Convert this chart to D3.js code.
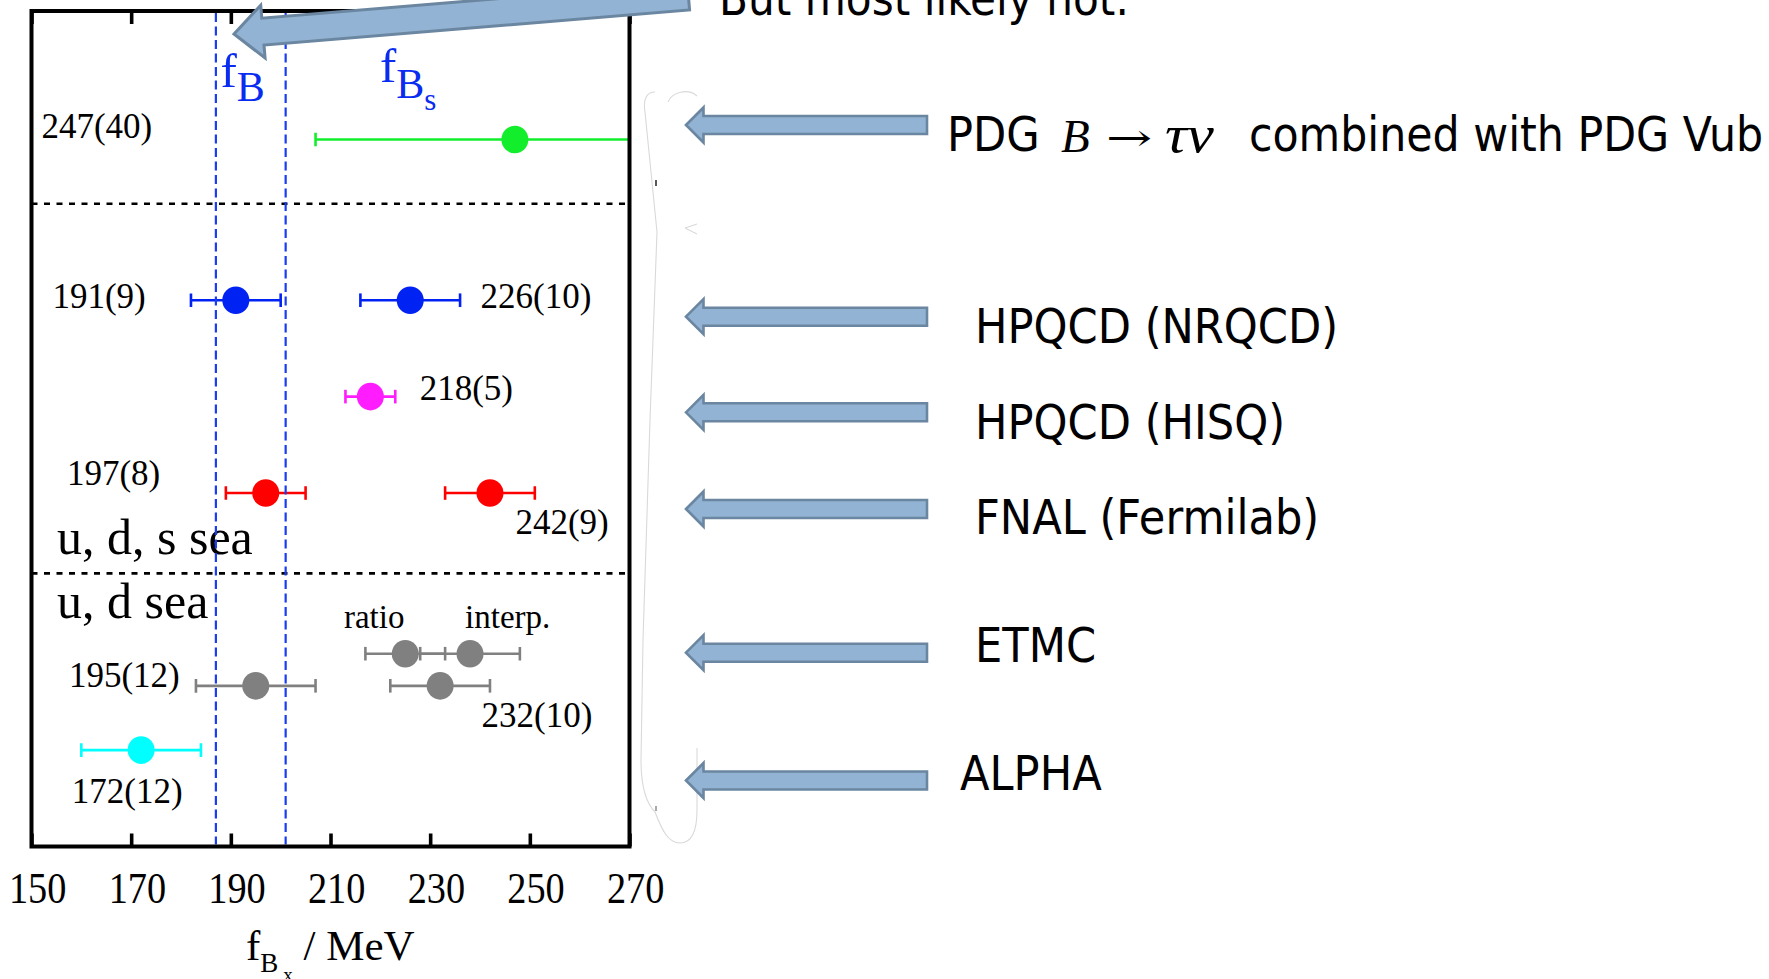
<!DOCTYPE html>
<html>
<head>
<meta charset="utf-8">
<script src="https://cdn.jsdelivr.net/npm/d3@7"></script>
<style>
  html, body { margin: 0; padding: 0; background: #fff; overflow: hidden; }
  svg { display: block; }
</style>
</head>
<body>
<svg id="chart" width="1769" height="979"></svg>
<script>
// ---------------------------------------------------------------------------
// Decay constants f_B and f_Bs (MeV) from lattice QCD and from B -> tau nu
// ---------------------------------------------------------------------------
const groups        = ["PDG", "HPQCD-NRQCD", "HPQCD-NRQCD", "HPQCD-HISQ", "FNAL", "FNAL",
                       "ETMC", "ETMC", "ETMC", "ETMC", "ALPHA"];
const centralValues = [247, 191, 226, 218, 197, 242, 225, 238, 195, 232, 172];
const errors        = [40, 9, 10, 5, 8, 9, 8, 10, 12, 10, 12];
const rows          = [4, 9, 9, 12, 15, 15, 20, 20, 21, 21, 23];   // vertical slot of each result
const valueLabelled = [true, true, true, true, true, true, false, false, true, true, true];
const methodNames   = [null, null, null, null, null, null, "ratio", "interp.", null, null, null];

const xTicks        = [150, 170, 190, 210, 230, 250, 270];
const fBBand        = [187, 201];          // dashed vertical lines
const separatorRows = [6, 17.5];           // dotted horizontal lines

const seaLabels     = ["u, d, s sea", "u, d sea"];
const sourceLabels  = ["HPQCD (NRQCD)", "HPQCD (HISQ)", "FNAL (Fermilab)", "ETMC", "ALPHA"];
const pdgLabel      = ["PDG", "B", "\u2192", "\u03C4\u03BD", "combined with PDG Vub"];
const topNote       = "But most likely not.";

// ---------------------------------------------------------------------------
// Styles and layout
// ---------------------------------------------------------------------------
const groupColor = {
  "PDG": "#12ee2c", "HPQCD-NRQCD": "#0022f2", "HPQCD-HISQ": "#ff1cff",
  "FNAL": "#ff0000", "ETMC": "#808080", "ALPHA": "#00ffff"
};
const SERIF = "'Liberation Serif', 'Times New Roman', serif";
const SANS  = "'DejaVu Sans', Verdana, sans-serif";

const svg = d3.select("#chart");

const x = d3.scaleLinear().domain([150, 270]).range([31.5, 629.5]);
const y = d3.scaleLinear().domain([0, 26]).range([11, 846.5]);
const [x0, x1] = x.range();
const [y0, y1] = y.range();

svg.append("defs").append("clipPath").attr("id", "plot-clip")
  .append("rect").attr("x", x0).attr("y", y0).attr("width", x1 - x0).attr("height", y1 - y0);

// value label anchors (MeV, row) for each result, placed beside its point
const valueLabelAnchors = [
  [152.0, 3.96], [154.2, 9.24], [240.1, 9.24], [227.9, 12.1], [157.1, 14.75],
  [247.1, 16.27], null, null, [157.5, 21.03], [240.3, 22.28], [158.1, 24.65]
];
const methodLabelAnchors = [null, null, null, null, null, null,
  [212.7, 19.2], [237.0, 19.2], null, null, null];

// faint outline of the slide's brace shape
svg.append("path")
  .attr("d", "M 655,92 C 646,92 643,100 645,112 L 657,232 L 650,420 L 643,640 " +
             "L 641,760 C 641,790 648,805 655,812 C 662,830 668,843 680,843 " +
             "C 692,843 697,830 697,810 L 697,748 " +
             "M 668,102 C 672,92 688,88 697,96 M 685,228 L 697,224 M 685,228 L 697,234")
  .attr("fill", "none").attr("stroke", "#d9d9d9").attr("stroke-width", 1.1);
svg.append("line").attr("x1", 656).attr("x2", 656).attr("y1", 180).attr("y2", 186)
  .attr("stroke", "#222").attr("stroke-width", 1.5);
svg.append("line").attr("x1", 656).attr("x2", 656).attr("y1", 806).attr("y2", 811)
  .attr("stroke", "#555").attr("stroke-width", 1);

// sea-quark annotations inside the frame
svg.append("g").selectAll("text").data(seaLabels).join("text")
  .attr("x", 57)
  .attr("y", (d, i) => [554, 618.3][i])
  .attr("font-family", SERIF).attr("font-size", 50).attr("fill", "#000")
  .text(d => d);

// dotted separators between sea-content groups
svg.append("g").selectAll("line").data(separatorRows).join("line")
  .attr("x1", x0).attr("x2", x1)
  .attr("y1", d => y(d)).attr("y2", d => y(d))
  .attr("stroke", "#000").attr("stroke-width", 2.6).attr("stroke-dasharray", "6,6.5");

// value labels
svg.append("g").selectAll("text")
  .data(centralValues.map((v, i) => ({ v, e: errors[i], a: valueLabelAnchors[i], on: valueLabelled[i] }))
        .filter(d => d.on))
  .join("text")
  .attr("x", d => x(d.a[0])).attr("y", d => y(d.a[1]))
  .attr("font-family", SERIF).attr("font-size", 35).attr("fill", "#000")
  .text(d => `${d.v}(${d.e})`);

// method labels for the two ETMC f_Bs determinations
svg.append("g").selectAll("text")
  .data(methodNames.map((m, i) => ({ m, a: methodLabelAnchors[i] })).filter(d => d.m))
  .join("text")
  .attr("x", d => x(d.a[0])).attr("y", d => y(d.a[1]))
  .attr("font-family", SERIF).attr("font-size", 33).attr("fill", "#000")
  .text(d => d.m);

// error bars and points
const points = centralValues.map((v, i) => ({
  v, e: errors[i], row: rows[i], color: groupColor[groups[i]]
}));
const marks = svg.append("g").attr("clip-path", "url(#plot-clip)");
const capH = 6.8;
const bars = marks.selectAll("g.bar").data(points).join("g").attr("class", "bar")
  .attr("stroke", d => d.color).attr("stroke-width", 2.6).attr("fill", "none");
bars.append("line")
  .attr("x1", d => x(d.v - d.e)).attr("x2", d => x(d.v + d.e))
  .attr("y1", d => y(d.row)).attr("y2", d => y(d.row));
bars.append("line")
  .attr("x1", d => x(d.v - d.e)).attr("x2", d => x(d.v - d.e))
  .attr("y1", d => y(d.row) - capH).attr("y2", d => y(d.row) + capH);
bars.append("line")
  .attr("x1", d => x(d.v + d.e)).attr("x2", d => x(d.v + d.e))
  .attr("y1", d => y(d.row) - capH).attr("y2", d => y(d.row) + capH);
marks.selectAll("ellipse").data(points).join("ellipse")
  .attr("cx", d => x(d.v)).attr("cy", d => y(d.row))
  .attr("rx", 13.5).attr("ry", 13.8)
  .attr("fill", d => d.color);

// dashed lines bounding the f_B band
svg.append("g").selectAll("line").data(fBBand).join("line")
  .attr("x1", d => x(d)).attr("x2", d => x(d))
  .attr("y1", y0 + 2).attr("y2", y1 - 2)
  .attr("stroke", "#1a3cf2").attr("stroke-width", 2.2).attr("stroke-dasharray", "9,4.5");

// f_B and f_Bs headings
const hB = svg.append("text").attr("x", 220.5).attr("y", 86.7)
  .attr("font-family", SERIF).attr("font-size", 49).attr("fill", "#0a2cf0");
hB.append("tspan").text("f");
hB.append("tspan").attr("font-size", 42).attr("dy", 14).text("B");
const hBs = svg.append("text").attr("x", 380).attr("y", 81.7)
  .attr("font-family", SERIF).attr("font-size", 49).attr("fill", "#0a2cf0");
hBs.append("tspan").text("f");
hBs.append("tspan").attr("font-size", 42).attr("dy", 16.6).text("B");
hBs.append("tspan").attr("font-size", 31).attr("dy", 11.7).text("s");

// frame
svg.append("rect")
  .attr("x", x0).attr("y", y0).attr("width", x1 - x0).attr("height", y1 - y0)
  .attr("fill", "none").attr("stroke", "#000").attr("stroke-width", 4);

// bottom axis: inward ticks, labels below
const axB = svg.append("g").attr("transform", `translate(0,${y1})`)
  .call(d3.axisBottom(x).tickValues(xTicks).tickSize(-13).tickPadding(25.5)
        .tickFormat(d3.format("d")));
axB.select(".domain").remove();
axB.selectAll(".tick line").attr("stroke", "#000").attr("stroke-width", 3.6);
axB.selectAll(".tick text")
  .attr("font-family", SERIF).attr("font-size", 44).attr("fill", "#000")
  .attr("x", 6.5).attr("transform", "scale(0.87,1)");

// top axis: inward ticks only
const axT = svg.append("g").attr("transform", `translate(0,${y0})`)
  .call(d3.axisTop(x).tickValues(xTicks).tickSize(-13).tickFormat(""));
axT.select(".domain").remove();
axT.selectAll(".tick line").attr("stroke", "#000").attr("stroke-width", 3.6);

// axis title f_Bx / MeV
const title = svg.append("text").attr("x", 246).attr("y", 960)
  .attr("font-family", SERIF).attr("font-size", 43).attr("fill", "#000");
title.append("tspan").text("f");
title.append("tspan").attr("font-size", 27).attr("dy", 11.7).text("B");
title.append("tspan").attr("font-size", 19).attr("dx", 5).attr("dy", 9).text("x");
title.append("tspan").attr("font-size", 43).attr("dy", -20.7).text(" / MeV");

// ---------------------------------------------------------------------------
// Slide annotations: block arrows and source names
// ---------------------------------------------------------------------------
const ARROW_FILL = "#93b3d4", ARROW_EDGE = "#6a86a0";
function blockArrow(len, headLen, headHalf, shaftHalf) {
  return `M0,0 L${headLen},${-headHalf} L${headLen},${-shaftHalf} L${len},${-shaftHalf} ` +
         `L${len},${shaftHalf} L${headLen},${shaftHalf} L${headLen},${headHalf} Z`;
}

// large tilted arrow pointing at the f_B band
svg.append("path")
  .attr("d", blockArrow(456, 29, 26.5, 13.5))
  .attr("transform", "translate(234,34) rotate(-4.72)")
  .attr("fill", ARROW_FILL).attr("stroke", ARROW_EDGE).attr("stroke-width", 3)
  .attr("stroke-linejoin", "miter");

svg.append("text")
  .attr("transform", "translate(719,15) scale(0.88,1)")
  .attr("font-family", SANS).attr("font-size", 48).attr("fill", "#000")
  .text(topNote);

// small arrows for each source
const arrowRowsY = [125, 316.7, 412.3, 509, 652.7, 780.5];
svg.append("g").selectAll("path").data(arrowRowsY).join("path")
  .attr("d", blockArrow(241, 17.5, 17.5, 9))
  .attr("transform", d => `translate(686,${d})`)
  .attr("fill", ARROW_FILL).attr("stroke", ARROW_EDGE).attr("stroke-width", 2.6);

// PDG label with B -> tau nu in math type
svg.append("text")
  .attr("transform", "translate(947,151) scale(0.9,1)")
  .attr("font-family", SANS).attr("font-size", 48).attr("fill", "#000")
  .text(pdgLabel[0]);
svg.append("text").attr("x", 1061).attr("y", 152)
  .attr("font-family", SERIF).attr("font-style", "italic").attr("font-size", 47).attr("fill", "#000")
  .text(pdgLabel[1]);
svg.append("text")
  .attr("transform", "translate(1106,150.5) scale(1.45,1)")
  .attr("font-family", "'DejaVu Serif', serif").attr("font-size", 38).attr("fill", "#000")
  .text(pdgLabel[2]);
svg.append("text")
  .attr("transform", "translate(1165,152) scale(1.15,1)")
  .attr("font-family", SERIF).attr("font-style", "italic").attr("font-size", 53).attr("fill", "#000")
  .text(pdgLabel[3]);
svg.append("text")
  .attr("transform", "translate(1249,151) scale(0.89,1)")
  .attr("font-family", SANS).attr("font-size", 48).attr("fill", "#000")
  .text(pdgLabel[4]);

// remaining source names
const sourcePos = [[975, 342.5], [975, 438.5], [975, 533.5], [975, 662], [960, 790]];
svg.append("g").selectAll("text").data(sourceLabels).join("text")
  .attr("transform", (d, i) => `translate(${sourcePos[i][0]},${sourcePos[i][1]}) scale(0.9,1)`)
  .attr("font-family", SANS).attr("font-size", 48).attr("fill", "#000")
  .text(d => d);
</script>
</body>
</html>
